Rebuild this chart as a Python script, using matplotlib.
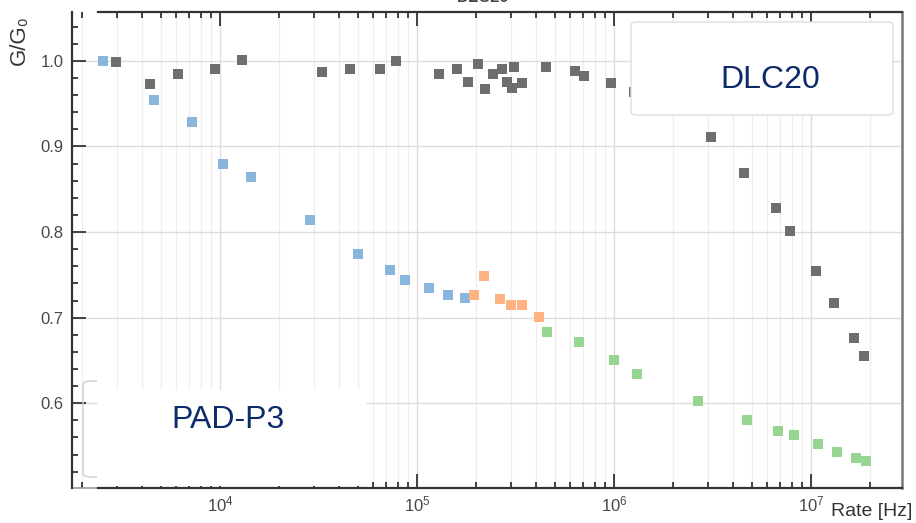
import matplotlib
matplotlib.use("Agg")
import matplotlib.pyplot as plt
from matplotlib.patches import FancyBboxPatch, Rectangle
from matplotlib.transforms import Bbox
from matplotlib.ticker import LogLocator, MultipleLocator, FixedLocator

plt.rcParams['font.family'] = ['Liberation Sans', 'DejaVu Sans']

# DLC20 (gray)
dlc_rate = [2.96e3, 4.40e3, 6.10e3, 9.46e3, 1.30e4, 3.30e4, 4.58e4, 6.49e4, 7.82e4,
            1.30e5, 1.60e5, 1.82e5, 2.04e5, 2.21e5, 2.43e5, 2.70e5, 2.86e5, 3.04e5,
            3.11e5, 3.41e5, 4.52e5, 6.34e5, 7.05e5, 9.66e5, 1.26e6, 3.11e6, 4.57e6,
            6.64e6, 7.82e6, 1.06e7, 1.31e7, 1.65e7, 1.86e7]
dlc_g = [0.999, 0.973, 0.984, 0.990, 1.001, 0.987, 0.991, 0.991, 1.000,
         0.984, 0.990, 0.975, 0.996, 0.967, 0.984, 0.991, 0.975, 0.968,
         0.993, 0.974, 0.993, 0.988, 0.982, 0.974, 0.964, 0.911, 0.869,
         0.828, 0.801, 0.754, 0.717, 0.676, 0.655]

# PAD-P3, three measurement runs
blue_rate = [2.56e3, 4.63e3, 7.22e3, 1.04e4, 1.44e4, 2.88e4, 5.04e4, 7.29e4, 8.69e4,
             1.15e5, 1.43e5, 1.75e5]
blue_g = [1.000, 0.954, 0.928, 0.880, 0.864, 0.814, 0.774, 0.756, 0.744,
          0.735, 0.727, 0.723]

orange_rate = [1.95e5, 2.19e5, 2.64e5, 3.00e5, 3.40e5, 4.16e5]
orange_g = [0.727, 0.749, 0.722, 0.715, 0.715, 0.701]

green_rate = [4.58e5, 6.67e5, 1.00e6, 1.31e6, 2.68e6, 4.75e6, 6.83e6, 8.17e6,
              1.09e7, 1.36e7, 1.69e7, 1.90e7]
green_g = [0.683, 0.671, 0.651, 0.634, 0.603, 0.581, 0.568, 0.563,
           0.552, 0.543, 0.536, 0.533]

W, H = 916, 523
fig = plt.figure(figsize=(W / 100, H / 100), dpi=100)
ax = fig.add_axes([72 / W, 1 - 488 / H, 830 / W, 476 / H])

ax.set_xscale('log')
ax.set_xlim(1773, 2.9e7)
ax.set_ylim(0.501, 1.057)

ms = 48
ax.scatter(dlc_rate, dlc_g, marker='s', s=ms, color='#6e6e6e', lw=0, zorder=3)
ax.scatter(blue_rate, blue_g, marker='s', s=ms, color='#8ab6dd', lw=0, zorder=3)
ax.scatter(orange_rate, orange_g, marker='s', s=ms, color='#ffb282', lw=0, zorder=3)
ax.scatter(green_rate, green_g, marker='s', s=ms, color='#98d492', lw=0, zorder=3)

# ticks and grid
ax.xaxis.set_major_locator(LogLocator(base=10, numticks=10))
ax.xaxis.set_minor_locator(LogLocator(base=10, subs=range(2, 10), numticks=20))
ax.yaxis.set_major_locator(FixedLocator([0.6, 0.7, 0.8, 0.9, 1.0]))
ax.yaxis.set_minor_locator(MultipleLocator(0.02))
ax.yaxis.set_major_formatter(plt.FuncFormatter(lambda v, p: f"{v:.1f}"))

ax.tick_params(which='both', direction='in', top=True, right=False,
               color='#333333', width=1.3, labelcolor='#484848', labelsize=12)
ax.tick_params(which='major', length=10)
ax.tick_params(which='minor', length=4.5)
ax.tick_params(axis='x', pad=5)
ax.tick_params(axis='y', pad=6)

ax.grid(True, which='major', color='#dcdcdc', lw=1.0)
ax.grid(True, which='minor', axis='x', color='#eeeeee', lw=0.9)

for s in ['left', 'bottom', 'top']:
    ax.spines[s].set_color('#333333')
    ax.spines[s].set_linewidth(1.6)
ax.spines['right'].set_color('#777777')
ax.spines['right'].set_linewidth(1.8)
ax.spines['bottom'].set_bounds(2404, 2.9e7)
ax.spines['top'].set_bounds(2404, 2.9e7)
ax.plot([1773, 2404], [0.501, 0.501], color='#999999', lw=1.2, clip_on=False)

ax.set_ylabel('G/G\u2080', fontsize=16, color='#333333', va='center')
ax.yaxis.set_label_coords(-0.063, 0.94)
fig.text(872 / W, 1 - 511 / H, 'Rate [Hz]', fontsize=14, color='#333333',
         ha='center', va='center')

# cut-off title at the very top
fig.text(483 / W, 1.004, 'DLC20', fontsize=12, fontweight='bold',
         color='#444444', ha='center', va='center')


def px_box(x0, y0, x1, y1, **kw):
    return FancyBboxPatch((x0 / W, 1 - y1 / H), (x1 - x0) / W, (y1 - y0) / H,
                          transform=fig.transFigure, **kw)


# DLC20 legend box
fig.patches.append(px_box(631, 22, 893, 115, boxstyle='round,pad=0,rounding_size=0.006',
                          facecolor='white', edgecolor='#dddddd', lw=1.0, zorder=5))
fig.text(770 / W, 1 - 80 / H, 'DLC20', fontsize=23, color='#0d2a6b',
         ha='center', va='center', zorder=6)

# PAD-P3 legend: old frame only shows on its left side
frame = px_box(83, 381, 370, 477, boxstyle='round,pad=0,rounding_size=0.008',
               facecolor='none', edgecolor='#cfcfcf', lw=1.0, zorder=5)
fig.patches.append(frame)
frame.set_clip_box(Bbox.from_extents(0, 0, 97, H))
fig.patches.append(Rectangle((98 / W, 1 - 486 / H), (366 - 98) / W, (486 - 390) / H,
                             transform=fig.transFigure, facecolor='white',
                             edgecolor='none', zorder=5))
fig.text(228 / W, 1 - 420 / H, 'PAD-P3', fontsize=23, color='#0d2a6b',
         ha='center', va='center', zorder=6)

fig.savefig('out.png', dpi=100)
